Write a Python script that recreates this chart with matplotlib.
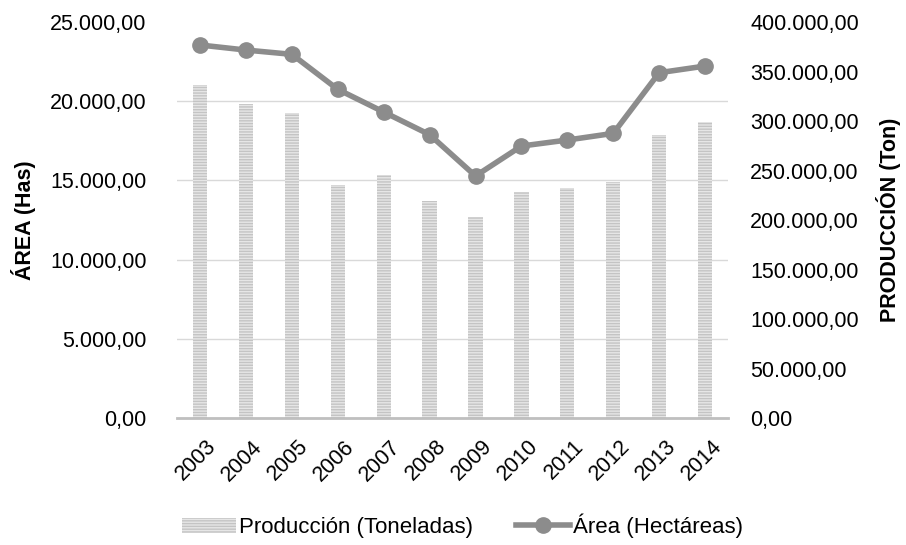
import numpy as np
import matplotlib
matplotlib.use('Agg')
import matplotlib.pyplot as plt
import matplotlib.transforms as mtransforms
from matplotlib.ticker import FuncFormatter
from matplotlib.patches import Patch
from matplotlib.lines import Line2D

plt.rcParams['font.family'] = ['Liberation Sans', 'DejaVu Sans']
plt.rcParams['hatch.linewidth'] = 1.0

years = ['2003', '2004', '2005', '2006', '2007', '2008',
         '2009', '2010', '2011', '2012', '2013', '2014']
produccion = [336400, 317200, 308400, 235000, 245200, 219200,
              202700, 228000, 232600, 238400, 285900, 299300]   # Ton
area = [23550, 23230, 22960, 20750, 19320, 17890,
        15280, 17170, 17550, 17970, 21800, 22220]               # Has

area_ticks = [0, 5000, 10000, 15000, 20000, 25000]
prod_ticks = [0, 50000, 100000, 150000, 200000, 250000, 300000, 350000, 400000]


def fmt_es(x, pos=None):
    # formato 25.000,00
    s = '{:,.2f}'.format(x)
    return s.replace(',', 'X').replace('.', ',').replace('X', '.')


fig = plt.figure(figsize=(9.06, 5.45), dpi=100)
ax_bar = fig.add_axes([0.1954, 0.233, 0.6082, 0.7266])
ax_line = ax_bar.twinx()

x = np.arange(len(years))
fs = 15.5
gray = '#8c8c8c'

# barras (eje derecho)
ax_bar.bar(x, produccion, width=0.31, color='#e6e6e6', edgecolor='#c4c4c4',
           hatch='------', linewidth=0, zorder=2)
ax_bar.set_ylim(0, 400000)
ax_bar.set_xlim(-0.5, len(years) - 0.5)
ax_bar.yaxis.tick_right()
ax_bar.yaxis.set_label_position('right')
ax_bar.set_yticks(prod_ticks)
ax_bar.yaxis.set_major_formatter(FuncFormatter(fmt_es))
ax_bar.tick_params(axis='y', length=0, pad=16, labelsize=fs)
ax_bar.set_ylabel('PRODUCCIÓN (Ton)', fontsize=fs, fontweight='bold', labelpad=12)
# grid following the area axis
ax_bar.set_yticks(np.array(area_ticks) * 16, minor=True)
ax_bar.tick_params(axis='y', which='minor', length=0)
ax_bar.grid(axis='y', which='minor', color='#d9d9d9', linewidth=1.0, zorder=0)
ax_bar.set_axisbelow(True)

ax_bar.set_xticks(x)
ax_bar.set_xticklabels(years, rotation=45, ha='right', va='top',
                       rotation_mode='anchor', fontsize=fs)
ax_bar.tick_params(axis='x', length=0, pad=13)
shift = mtransforms.ScaledTranslation(6 / 100, 0, fig.dpi_scale_trans)
for lbl in ax_bar.get_xticklabels():
    lbl.set_transform(lbl.get_transform() + shift)

for s in ['top', 'left', 'right']:
    ax_bar.spines[s].set_visible(False)
ax_bar.spines['bottom'].set_color('#bfbfbf')
ax_bar.spines['bottom'].set_linewidth(2)

# linea (eje izquierdo)
ax_line.plot(x, area, color=gray, linewidth=4, marker='o', markersize=11,
             zorder=3)
ax_line.set_ylim(0, 25000)
ax_line.yaxis.tick_left()
ax_line.yaxis.set_label_position('left')
ax_line.set_yticks(area_ticks)
ax_line.yaxis.set_major_formatter(FuncFormatter(fmt_es))
ax_line.tick_params(axis='y', length=0, pad=22, labelsize=fs)
ax_line.set_ylabel('ÁREA (Has)', fontsize=fs, fontweight='bold', labelpad=10)
for s in ax_line.spines.values():
    s.set_visible(False)

ax_bar.set_zorder(1)
ax_line.set_zorder(2)
ax_line.patch.set_visible(False)

handles = [Patch(facecolor='#e6e6e6', edgecolor='#c4c4c4', hatch='------',
                 linewidth=0, label='Producción (Toneladas)'),
           Line2D([0], [0], color=gray, linewidth=4, marker='o', markersize=11,
                  label='Área (Hectáreas)')]
fig.legend(handles=handles, loc='center', bbox_to_anchor=(0.5105, 0.035),
           ncol=2, frameon=False, fontsize=16, handlelength=2.45,
           columnspacing=1.9, handletextpad=0.15)

fig.savefig('out.png', dpi=100)
